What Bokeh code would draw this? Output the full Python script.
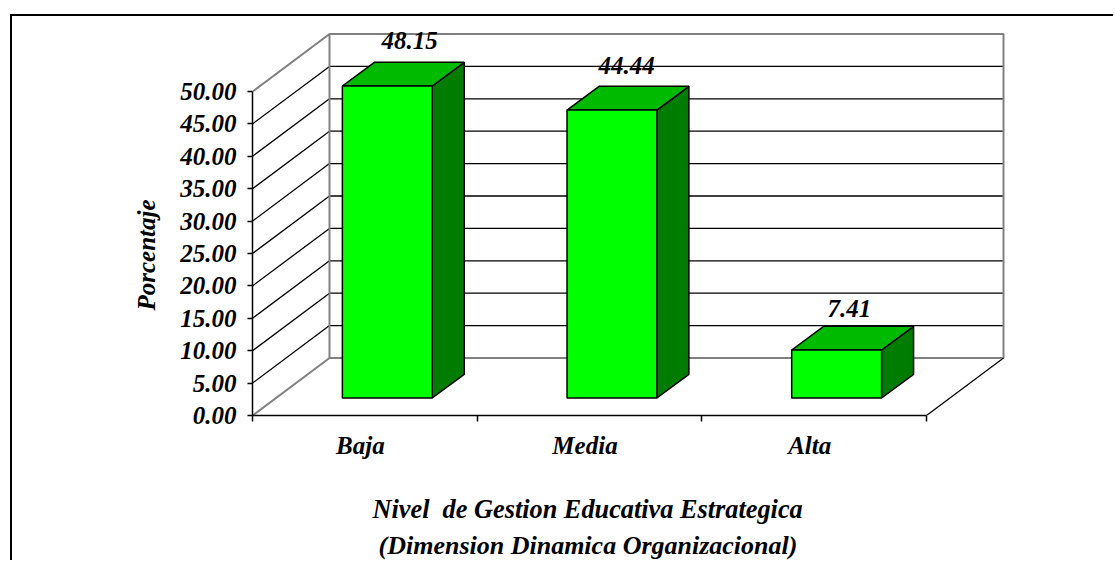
from bokeh.plotting import figure
from bokeh.embed import file_html
from bokeh.resources import INLINE
from bokeh.core.properties import value
from bokeh.models import Range1d, FixedTicker, NumeralTickFormatter, Title

categories = ["Baja", "Media", "Alta"]
percentages = [48.15, 44.44, 7.41]
value_ticks = [0, 5, 10, 15, 20, 25, 30, 35, 40, 45, 50]
y_axis_title = "Porcentaje"
x_title_lines = ["Nivel \u00a0de Gestion Educativa Estrategica", "(Dimension Dinamica Organizacional)"]

FONT = "Liberation Serif"
FS = "25px"
TITLE_FS = "26.3px"
PX_X = 224.67   # pixels per category
PX_Y = 6.48     # pixels per percent
DEPTH_X = 77 / PX_X
DEPTH_Y = 57.5 / PX_Y
BAR_SHIFT_X = 0.1
BAR_SHIFT_Y = 17.5 / PX_Y
BAR_HALF = 0.2
BAR_DX = 32 / PX_X
BAR_DY = 23.7 / PX_Y
LABEL_TICK_SHIFT = -4.5 / PX_X
VMAX = value_ticks[-1]
N = len(categories)

ORIGIN_X, ORIGIN_Y = 12, 16   # canvas position on the page, after margin and border
W, H = 1115 - ORIGIN_X, 562 - ORIGIN_Y
FRAME_L = 252 - ORIGIN_X
FRAME_R = 1010 - ORIGIN_X
FRAME_B = 562 - 415

p = figure(width=W, height=H, output_backend="svg", toolbar_location=None,
           x_range=Range1d(0, (FRAME_R - FRAME_L) / PX_X),
           y_range=Range1d(0, (H - FRAME_B) / PX_Y),
           min_border_left=FRAME_L, min_border_right=W - FRAME_R,
           min_border_top=0, min_border_bottom=FRAME_B)
p.outline_line_color = None
p.grid.visible = False
p.styles = {"margin-left": "10px", "margin-top": "14px",
            "border-left": "2px solid black", "border-top": "2px solid black"}

# y axis
ya = p.yaxis[0]
ya.ticker = FixedTicker(ticks=value_ticks)
ya.formatter = NumeralTickFormatter(format="0.00")
ya.bounds = (0, VMAX)
ya.major_tick_out = 5
ya.major_tick_in = 0
ya.major_tick_line_width = 1.5
ya.axis_line_width = 1.5
ya.major_label_standoff = 11
ya.major_label_text_font = FONT
ya.major_label_text_font_style = "bold italic"
ya.major_label_text_font_size = FS
ya.major_label_text_color = "black"

# x axis
xa = p.xaxis[0]
label_ticks = [i + 0.5 + LABEL_TICK_SHIFT for i in range(N)]
xa.ticker = FixedTicker(ticks=label_ticks, minor_ticks=list(range(N + 1)))
xa.major_label_overrides = dict(zip(label_ticks, categories))
xa.bounds = (0, N)
xa.major_tick_out = 0
xa.major_tick_in = 0
xa.minor_tick_out = 6
xa.minor_tick_in = 0
xa.minor_tick_line_width = 1.5
xa.axis_line_width = 1.5
xa.major_label_standoff = 10
xa.major_label_text_font = FONT
xa.major_label_text_font_style = "bold italic"
xa.major_label_text_font_size = FS
xa.major_label_text_color = "black"

# back wall and side wall grid lines
inner = value_ticks[1:-1]
p.multi_line([[DEPTH_X, N + DEPTH_X] for _ in inner], [[v + DEPTH_Y] * 2 for v in inner],
             line_color="black", line_width=1.3)
p.multi_line([[0, DEPTH_X] for _ in inner], [[v, v + DEPTH_Y] for v in inner],
             line_color="black", line_width=1.3)

# gray wall outline
p.line([0, DEPTH_X, N + DEPTH_X, N + DEPTH_X, DEPTH_X, DEPTH_X],
       [VMAX, VMAX + DEPTH_Y, VMAX + DEPTH_Y, DEPTH_Y, DEPTH_Y, VMAX + DEPTH_Y],
       line_color="#808080", line_width=2)
p.line([0, DEPTH_X], [0, DEPTH_Y], line_color="#808080", line_width=2)
p.line([N, N + DEPTH_X], [0, DEPTH_Y], line_color="black", line_width=1.3)

# bars
for i, v in enumerate(percentages):
    l = i + 0.5 + BAR_SHIFT_X - BAR_HALF
    r = i + 0.5 + BAR_SHIFT_X + BAR_HALF
    b = BAR_SHIFT_Y
    t = v + BAR_SHIFT_Y
    p.patch([r, r + BAR_DX, r + BAR_DX, r], [b, b + BAR_DY, t + BAR_DY, t],
            fill_color="#007C00", line_color="black", line_width=1.5)
    p.patch([l, l + BAR_DX, r + BAR_DX, r], [t, t + BAR_DY, t + BAR_DY, t],
            fill_color="#00BA00", line_color="black", line_width=1.5)
    p.patch([l, r, r, l], [b, b, t, t],
            fill_color="#00FF00", line_color="black", line_width=1.5)

# value labels
label_x = [0.699, 1.665, 2.657]
label_gaps = [9.75, 9.6, 9.1]
p.text(label_x, [v + g for v, g in zip(percentages, label_gaps)],
       text=[f"{v:.2f}" for v in percentages],
       text_font=value(FONT), text_font_style="bold italic", text_font_size=FS,
       text_color="black", text_align="center", text_baseline="alphabetic")

# axis titles, placed as layout titles so that they are not clipped to the frame
def title(text, offset, standoff, size=TITLE_FS):
    return Title(text=text, align="left", offset=offset, standoff=standoff,
                 text_font=FONT, text_font_style="bold italic", text_font_size=size,
                 text_color="black")

p.add_layout(title(y_axis_title, 105, 36, FS), "left")
p.add_layout(title(" ", 0, 0, "23px"), "below")
p.add_layout(title(x_title_lines[0], 120, 8), "below")
p.add_layout(title(x_title_lines[1], 126, 2, "26px"), "below")

open("out.html", "w").write(file_html(p, INLINE))
